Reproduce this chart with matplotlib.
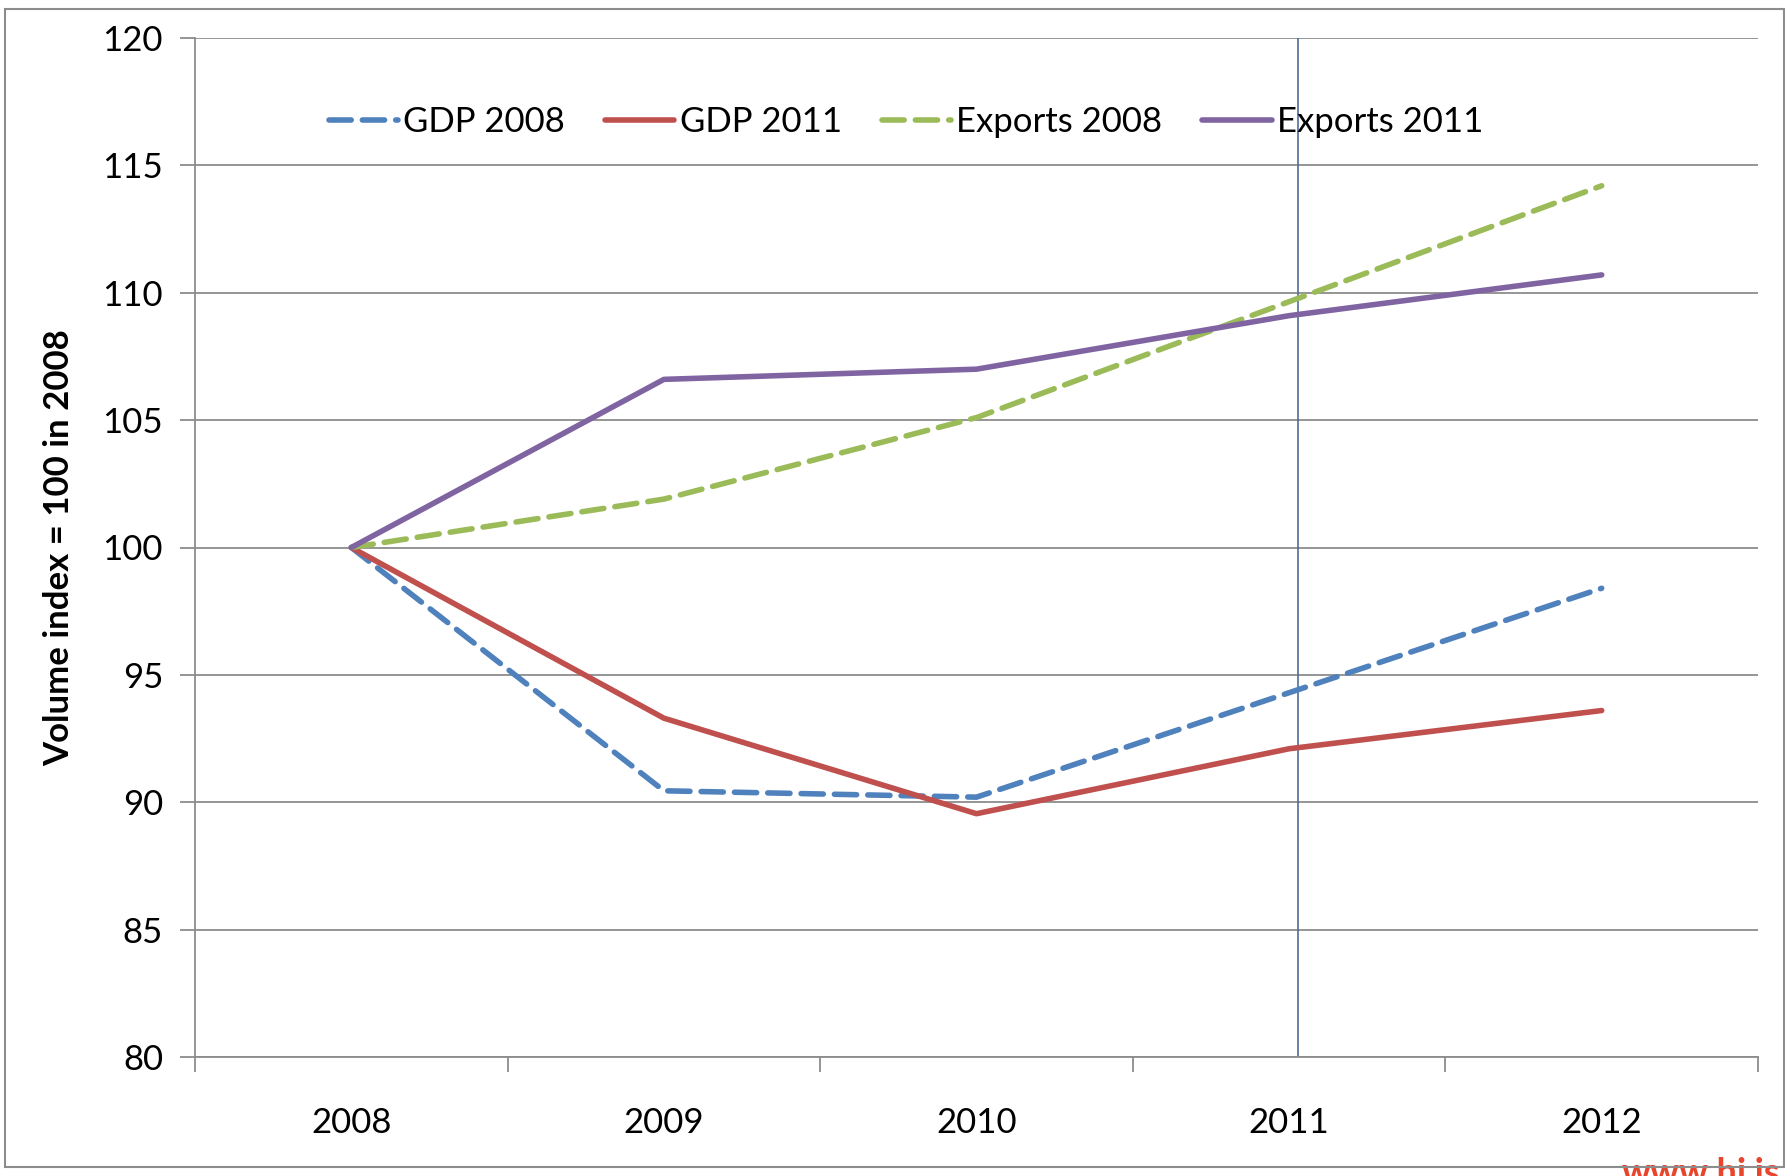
import matplotlib
matplotlib.use("Agg")
import matplotlib.pyplot as plt
from matplotlib.patches import Rectangle

plt.rcParams['font.family'] = ['Lato', 'DejaVu Sans']

years = ['2008', '2009', '2010', '2011', '2012']
gdp_2008 = [100, 90.45, 90.2, 94.3, 98.4]
gdp_2011 = [100, 93.3, 89.55, 92.1, 93.6]
exports_2008 = [100, 101.9, 105.1, 109.65, 114.2]
exports_2011 = [100, 106.6, 107.0, 109.1, 110.7]

series = [
    ('GDP 2008', gdp_2008, '#4F81BD', (0, (4, 2))),
    ('GDP 2011', gdp_2011, '#C0504D', '-'),
    ('Exports 2008', exports_2008, '#9BBB59', (0, (4, 2))),
    ('Exports 2011', exports_2011, '#8064A2', '-'),
]

W, H = 1785, 1176
fig = plt.figure(figsize=(W / 100, H / 100), dpi=100)
ax = fig.add_axes([195 / W, 1 - 1057 / H, (1758 - 195) / W, (1057 - 38) / H])

x = list(range(len(years)))
for name, vals, col, ls in series:
    ax.plot(x, vals, color=col, linestyle=ls, linewidth=4.0, label=name,
            solid_capstyle='round', dash_capstyle='round', zorder=3)

# thin vertical marker at 2011
ax.axvline(3.03, color='#4F6E9B', linewidth=1.2, zorder=2)

ax.set_xlim(-0.5, 4.5)
ax.set_ylim(80, 120)
ax.set_yticks(range(80, 121, 5))
ax.yaxis.grid(True, color='#8C8C8C', linewidth=1.3)
ax.set_axisbelow(True)

ax.set_xticks([i - 0.5 for i in range(len(years) + 1)])
ax.set_xticklabels([])
ax.set_xticks(x, minor=True)
ax.set_xticklabels(years, minor=True)
ax.tick_params(axis='x', which='minor', length=0, pad=36, labelsize=25)
ax.tick_params(axis='x', which='major', length=11, width=1.3, color='#8C8C8C', direction='out')
ax.tick_params(axis='y', length=11, width=1.3, color='#8C8C8C', labelsize=25, pad=12)

for s in ['top', 'right']:
    ax.spines[s].set_visible(False)
for s in ['left', 'bottom']:
    ax.spines[s].set_color('#8C8C8C')
    ax.spines[s].set_linewidth(1.3)

fig.text(59 / W, 1 - 548 / H, 'Volume index = 100 in 2008', rotation=90,
         ha='center', va='center', fontsize=25, fontweight='bold')

fig.legend(loc='center', bbox_to_anchor=(906 / W, 1 - 122 / H), ncol=4, frameon=False,
           fontsize=25, handlelength=2.0, handletextpad=0.15, columnspacing=1.15)

# outer frame and partially hidden footer text
fig.patches.append(Rectangle((5 / W, 9 / H), (1784 - 5) / W, (1167 - 9) / H,
                             transform=fig.transFigure, fill=False,
                             edgecolor='#8C8C8C', linewidth=1.5, zorder=5))
fig.text(1780 / W, -14 / H, 'www.hi.is', color='#E8452C', fontsize=26,
         fontweight='bold', ha='right', va='bottom')

fig.savefig('out.png', dpi=100)
